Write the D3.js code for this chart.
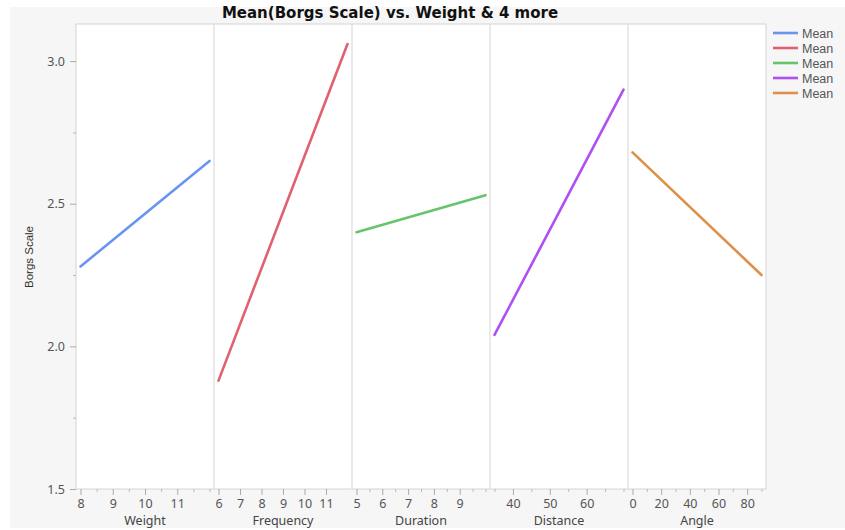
<!DOCTYPE html>
<html><head><meta charset="utf-8">
<script src="https://cdn.jsdelivr.net/npm/d3@7"></script>
<style>body{margin:0;background:#fff;} svg{display:block;}</style>
</head><body>
<svg id="c" width="845" height="530"></svg>
<script>
// ---- data ----
const factors = ["Weight", "Frequency", "Duration", "Distance", "Angle"];
const weightX = [8, 12],   weightY = [2.28, 2.65];
const freqX   = [6, 12],   freqY   = [1.88, 3.06];
const durX    = [5, 10],   durY    = [2.40, 2.53];
const distX   = [35, 70],  distY   = [2.04, 2.90];
const angleX  = [0, 90],   angleY  = [2.68, 2.25];
const weightTicks = [8, 9, 10, 11];
const freqTicks   = [6, 7, 8, 9, 10, 11];
const durTicks    = [5, 6, 7, 8, 9];
const distTicks   = [40, 50, 60];
const angleTicks  = [0, 20, 40, 60, 80];
const yTicks = [1.5, 2.0, 2.5, 3.0];
const yMinor = [1.75, 2.25, 2.75];
const legendLabels = ["Mean", "Mean", "Mean", "Mean", "Mean"];
const colors = ["#6a95ef", "#e0616f", "#66c46b", "#b04ff2", "#df9048"];
const title = "Mean(Borgs Scale) vs. Weight & 4 more";
const yTitle = "Borgs Scale";

const series = [
  {name: factors[0], x: weightX, y: weightY, ticks: weightTicks, minor: 0.5},
  {name: factors[1], x: freqX,   y: freqY,   ticks: freqTicks,   minor: null},
  {name: factors[2], x: durX,    y: durY,    ticks: durTicks,    minor: 0.5},
  {name: factors[3], x: distX,   y: distY,   ticks: distTicks,   minor: 5},
  {name: factors[4], x: angleX,  y: angleY,  ticks: angleTicks,  minor: 10}
];

const svg = d3.select("#c");
const L = 76, R = 766, T = 24, B = 489;
const panelW = (R - L) / series.length;
const FONT = "Noto Sans, Open Sans, sans-serif";

// background panel
svg.append("rect").attr("x", 10).attr("y", 7).attr("width", 835).attr("height", 521).attr("fill", "#f6f6f6");
svg.append("rect").attr("x", L).attr("y", T).attr("width", R - L).attr("height", B - T)
  .attr("fill", "#fff").attr("stroke", "#d4d4d4").attr("stroke-width", 1);

const y = d3.scaleLinear().domain([1.5, 3.13]).range([B, T]);

// title
svg.append("text").attr("x", 390).attr("y", 18).attr("text-anchor", "middle")
  .attr("font-family", "DejaVu Sans, Verdana, sans-serif").attr("font-weight", "bold")
  .attr("font-size", 15).attr("fill", "#111").text(title);

// y axis
const yAxis = svg.append("g").attr("transform", `translate(${L},0)`)
  .call(d3.axisLeft(y).tickValues(yTicks).tickFormat(d3.format(".1f")).tickSize(6).tickPadding(5));
yAxis.select(".domain").remove();
yAxis.selectAll("line").attr("stroke", "#aaa");
yAxis.selectAll("text").attr("font-family", FONT).attr("font-size", 12.5).attr("fill", "#555");
const yAxisMinor = svg.append("g").attr("transform", `translate(${L},0)`)
  .call(d3.axisLeft(y).tickValues(yMinor).tickFormat("").tickSize(3));
yAxisMinor.select(".domain").remove();
yAxisMinor.selectAll("line").attr("stroke", "#bbb");

svg.append("text").attr("transform", `translate(33,257) rotate(-90)`).attr("text-anchor", "middle")
  .attr("font-family", "Liberation Sans Narrow, Arial Narrow, sans-serif").attr("font-size", 11.5)
  .attr("fill", "#333").text(yTitle);

// panels
series.forEach((s, i) => {
  const x0 = L + i * panelW, x1 = x0 + panelW;
  const x = d3.scaleLinear().domain(d3.extent(s.x)).range([x0 + 4.5, x1 - 4.5]);
  if (i > 0) {
    svg.append("line").attr("x1", x0).attr("x2", x0).attr("y1", T).attr("y2", B)
      .attr("stroke", "#dcdcdc").attr("stroke-width", 1.2);
  }
  const ax = svg.append("g").attr("transform", `translate(0,${B})`)
    .call(d3.axisBottom(x).tickValues(s.ticks).tickFormat(d3.format("d")).tickSize(6).tickPadding(4));
  ax.select(".domain").remove();
  ax.selectAll("line").attr("stroke", "#aaa");
  ax.selectAll("text").attr("font-family", FONT).attr("font-size", 12.5).attr("fill", "#555");
  if (s.minor) {
    const lo = x.invert(x0 + 1), hi = x.invert(x1 - 1);
    const mv = d3.range(Math.ceil(lo / s.minor) * s.minor, hi + 1e-9, s.minor)
      .filter(v => !s.ticks.some(t => Math.abs(t - v) < 1e-9));
    const mx = svg.append("g").attr("transform", `translate(0,${B})`)
      .call(d3.axisBottom(x).tickValues(mv).tickFormat("").tickSize(3));
    mx.select(".domain").remove();
    mx.selectAll("line").attr("stroke", "#bbb");
  }
  svg.append("text").attr("x", (x0 + x1) / 2).attr("y", 525).attr("text-anchor", "middle")
    .attr("font-family", FONT).attr("font-size", 12.5).attr("fill", "#444").text(s.name);

  const line = d3.line().x((d, j) => x(s.x[j])).y(d => y(d));
  svg.append("path").datum(s.y).attr("d", line).attr("fill", "none")
    .attr("stroke", colors[i]).attr("stroke-width", 2.6).attr("stroke-linecap", "round");
});

// legend
const lg = svg.append("g");
legendLabels.forEach((lab, i) => {
  const yy = 33 + i * 15;
  lg.append("line").attr("x1", 773).attr("x2", 798).attr("y1", yy).attr("y2", yy)
    .attr("stroke", colors[i]).attr("stroke-width", 2.6);
  lg.append("text").attr("x", 802).attr("y", yy + 4.5).attr("font-family", "Liberation Sans, Arial, sans-serif")
    .attr("font-size", 12.5).attr("fill", "#555").text(lab);
});
</script>
</body></html>
